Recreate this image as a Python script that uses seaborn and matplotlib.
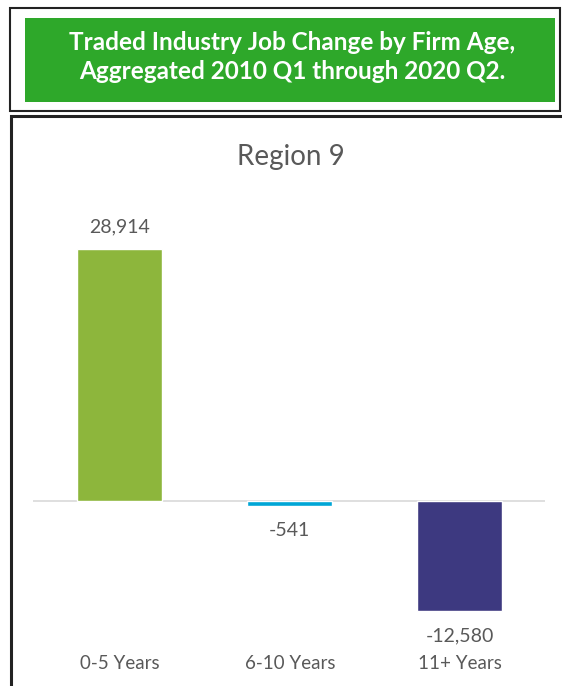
import matplotlib
matplotlib.use("Agg")
import matplotlib.pyplot as plt
import seaborn as sns
import pandas as pd
from matplotlib.patches import Rectangle

categories = ["0-5 Years", "6-10 Years", "11+ Years"]
values = [28914, -541, -12580]
value_labels = ["28,914", "-541", "-12,580"]
bar_colors = ["#8DB63C", "#00A6D6", "#3D3980"]
chart_title = "Region 9"
header = "Traded Industry Job Change by Firm Age,\nAggregated 2010 Q1 through 2020 Q2."

sns.set_theme(style="white")
plt.rcParams["font.family"] = ["Lato", "DejaVu Sans"]

W, H = 562, 686
fig = plt.figure(figsize=(W / 100, H / 100), dpi=100)

def fx(x):
    return x / W

def fy(y):
    return 1 - y / H

# header outer box
fig.patches.append(Rectangle((fx(10), fy(111)), fx(560) - fx(10), fy(8) - fy(111),
                             transform=fig.transFigure, fill=False, edgecolor="#222222", lw=1.5))
# green banner
fig.patches.append(Rectangle((fx(25), fy(102)), fx(555) - fx(25), fy(18) - fy(102),
                             transform=fig.transFigure, facecolor="#2EA82A", edgecolor="none"))
fig.text(fx(292), fy(57), header, ha="center", va="center", color="white",
         fontsize=17.5, fontweight="bold", linespacing=1.3)
# chart box
fig.patches.append(Rectangle((fx(11), fy(700)), fx(600) - fx(11), fy(116) - fy(700),
                             transform=fig.transFigure, fill=False, edgecolor="#222222", lw=2.2))

ax = fig.add_axes([fx(33), fy(649.2), fx(545) - fx(33), (649.2 - 204.7) / H])
df = pd.DataFrame({"cat": categories, "val": values})
sns.barplot(data=df, x="cat", y="val", hue="cat", palette=bar_colors, legend=False,
            width=0.5, ax=ax, saturation=1)
ax.set_xlim(-0.51, 2.5)
ax.set_ylim(-17000, 34000)
ax.axhline(0, color="#D9D9D9", lw=1.2, zorder=0.5)
for s in ax.spines.values():
    s.set_visible(False)
ax.set_yticks([])
ax.set_xlabel("")
ax.set_ylabel("")
ax.tick_params(axis="x", length=0, pad=4, labelsize=13.5, labelcolor="#595959")
for i, (v, lab) in enumerate(zip(values, value_labels)):
    if v >= 0:
        ax.annotate(lab, (i, v), xytext=(0, 16), textcoords="offset points",
                    ha="center", va="center", fontsize=14, color="#595959")
    else:
        ax.annotate(lab, (i, v), xytext=(0, -18), textcoords="offset points",
                    ha="center", va="center", fontsize=14, color="#595959")

fig.text(fx(291), fy(157), chart_title, ha="center", va="center", fontsize=20, color="#595959")

fig.savefig("out.png", dpi=100)
